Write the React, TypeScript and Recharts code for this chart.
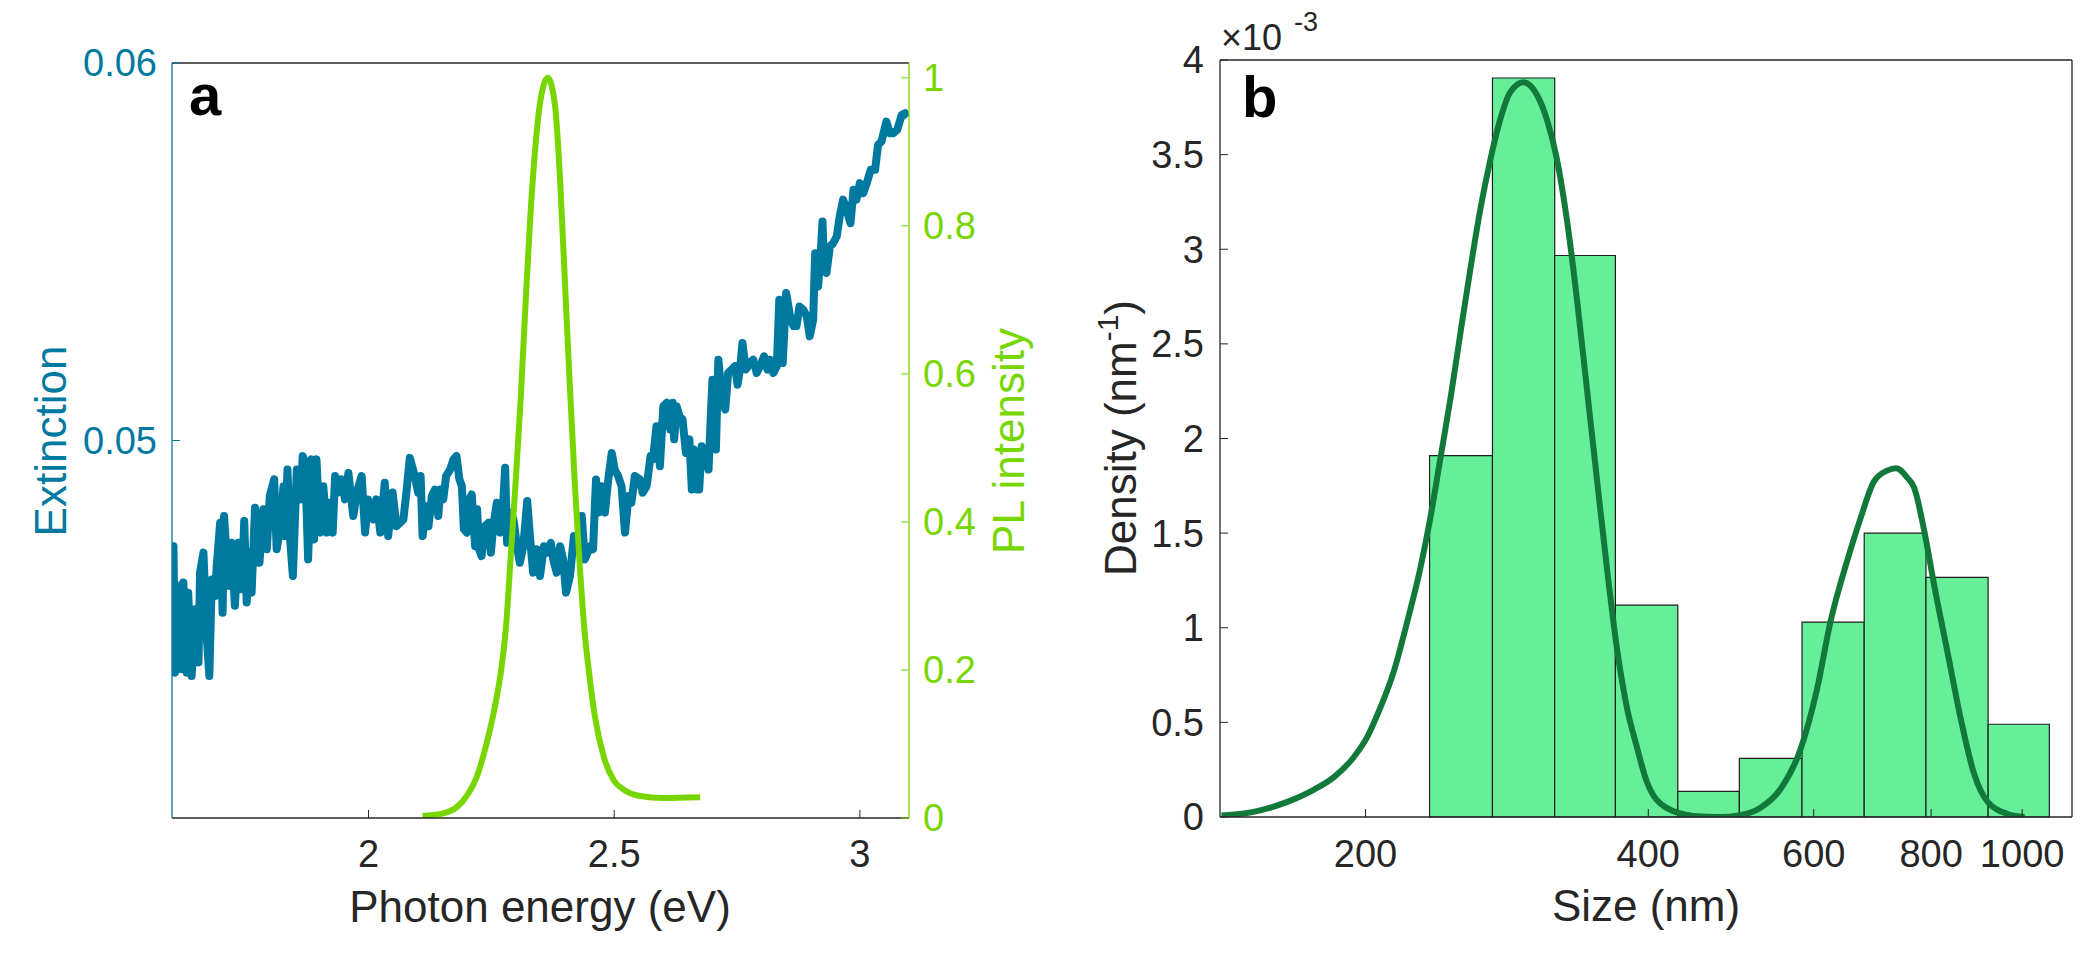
import { Line, LineChart, ReferenceArea, XAxis, YAxis } from "recharts";

const FONT = '"Liberation Sans", Arial, Helvetica, sans-serif';
const INK = "#262626";
const BLUE = "#0079A1";
const LIME = "#78D600";
const HIST_FILL = "#66EE99";
const FIT_GREEN = "#117A3A";

// panel a: extinction spectrum (values in units of 1e-3)
const extEnergy = [
  1.6, 1.603, 1.606, 1.613, 1.62, 1.623, 1.63, 1.633, 1.64, 1.647, 1.654, 1.657, 1.664, 1.671, 1.676,
  1.681, 1.688, 1.691, 1.698, 1.703, 1.706, 1.715, 1.721, 1.728, 1.735, 1.742, 1.747, 1.752, 1.757,
  1.762, 1.769, 1.778, 1.786, 1.793, 1.799, 1.808, 1.813, 1.82, 1.827, 1.83, 1.835, 1.84, 1.846, 1.854,
  1.862, 1.866, 1.871, 1.877, 1.884, 1.889, 1.894, 1.901, 1.908, 1.915, 1.92, 1.927, 1.932, 1.938,
  1.945, 1.952, 1.959, 1.969, 1.976, 1.986, 1.993, 1.999, 2.01, 2.016, 2.024, 2.033, 2.04, 2.049,
  2.057, 2.071, 2.077, 2.084, 2.094, 2.101, 2.106, 2.11, 2.118, 2.122, 2.129, 2.135, 2.142, 2.146,
  2.152, 2.158, 2.166, 2.173, 2.179, 2.185, 2.19, 2.194, 2.2, 2.205, 2.21, 2.217, 2.221, 2.225, 2.23,
  2.237, 2.244, 2.249, 2.254, 2.261, 2.268, 2.273, 2.278, 2.282, 2.288, 2.295, 2.303, 2.308, 2.315,
  2.323, 2.329, 2.335, 2.342, 2.349, 2.357, 2.364, 2.371, 2.376, 2.383, 2.39, 2.396, 2.402, 2.41,
  2.418, 2.427, 2.434, 2.44, 2.451, 2.457, 2.463, 2.468, 2.474, 2.481, 2.488, 2.495, 2.501, 2.508,
  2.515, 2.522, 2.529, 2.535, 2.542, 2.552, 2.558, 2.566, 2.574, 2.579, 2.586, 2.593, 2.6, 2.607,
  2.614, 2.619, 2.622, 2.627, 2.633, 2.639, 2.646, 2.653, 2.658, 2.662, 2.668, 2.673, 2.678, 2.685,
  2.692, 2.696, 2.7, 2.707, 2.712, 2.719, 2.726, 2.732, 2.739, 2.746, 2.751, 2.756, 2.761, 2.768,
  2.776, 2.783, 2.79, 2.797, 2.805, 2.812, 2.817, 2.824, 2.831, 2.836, 2.843, 2.85, 2.858, 2.865,
  2.871, 2.877, 2.885, 2.892, 2.898, 2.905, 2.909, 2.915, 2.92, 2.924, 2.927, 2.932, 2.939, 2.946,
  2.953, 2.959, 2.966, 2.973, 2.981, 2.987, 2.993, 3.0, 3.007, 3.014, 3.022, 3.031, 3.037, 3.044,
  3.054, 3.061, 3.068, 3.076, 3.085, 3.092, 3.098,
];
const extMilli = [
  46.0, 47.2, 43.85, 46.15, 43.94, 46.24, 43.85, 45.97, 43.76, 45.53, 44.12, 46.5, 47.03, 44.74, 43.76,
  46.32, 45.88, 46.68, 47.82, 45.44, 48.0, 46.15, 47.29, 45.62, 47.29, 46.06, 47.87, 45.71, 47.03,
  45.97, 48.22, 46.76, 48.18, 47.12, 48.53, 48.97, 47.12, 47.65, 48.79, 47.47, 49.23, 47.47, 46.41, 49.23,
  48.44, 49.59, 49.41, 46.85, 49.5, 47.38, 49.5, 47.56, 48.79, 47.56, 48.35, 47.56, 49.06, 48.62,
  48.97, 48.44, 49.14, 48.0, 48.62, 49.06, 47.56, 48.44, 47.91, 48.44, 47.56, 48.88, 47.47, 48.62,
  47.73, 47.91, 48.62, 49.54, 49.06, 48.62, 49.06, 47.47, 48.26, 47.73, 48.53, 48.7, 48.0, 48.7,
  48.44, 49.06, 49.23, 49.5, 49.59, 48.97, 48.79, 47.65, 47.56, 48.44, 48.57, 47.2, 48.18, 47.12, 46.94,
  47.73, 47.82, 47.03, 47.73, 48.35, 47.56, 48.09, 49.28, 47.29, 48.09, 47.91, 47.12, 46.76, 47.2,
  48.4, 47.38, 46.5, 47.12, 46.41, 47.2, 47.03, 47.29, 46.85, 46.5, 47.2, 46.85, 45.97, 46.41,
  47.47, 47.2, 48.0, 46.85, 47.2, 47.12, 48.97, 48.09, 48.79, 48.09, 48.97, 49.67, 49.23, 49.06,
  48.79, 47.56, 48.53, 48.35, 49.06, 48.97, 48.62, 48.79, 49.59, 49.5, 50.38, 49.32, 50.91, 51.0,
  50.29, 51.0, 50.03, 50.91, 50.64, 50.56, 49.67, 50.03, 48.7, 49.76, 48.7, 48.7, 49.85, 49.67,
  49.23, 50.47, 51.61, 49.76, 52.14, 51.17, 50.82, 51.79, 51.88, 51.97, 51.48, 51.88, 52.58, 51.88,
  52.05, 52.14, 51.79, 51.97, 52.23, 51.88, 52.14, 51.79, 51.97, 53.73, 52.05, 53.91, 53.29, 53.03,
  53.03, 53.55, 53.46, 53.29, 52.76, 53.2, 54.96, 54.08, 54.92, 55.8, 54.52, 54.44, 55.14, 55.23,
  55.41, 55.94, 56.38, 56.11, 55.76, 56.64, 56.38, 56.82, 56.55, 56.82, 57.17, 57.17, 57.83, 57.92,
  58.45, 58.14, 58.14, 58.23, 58.62, 58.67, 58.58,
];

// panel a: normalised photoluminescence
const plEnergy = [
  2.11, 2.15, 2.18, 2.2, 2.22, 2.24, 2.26, 2.27, 2.28, 2.29, 2.3, 2.31, 2.32, 2.33, 2.34, 2.35, 2.365,
  2.38, 2.39, 2.4, 2.41, 2.42, 2.43, 2.44, 2.45, 2.46, 2.48, 2.5, 2.52, 2.55, 2.6, 2.675,
];
const plValue = [
  0.003, 0.006, 0.015, 0.03, 0.055, 0.1, 0.16, 0.2, 0.26, 0.36, 0.46, 0.57, 0.7, 0.82, 0.91, 0.97, 1.0,
  0.96, 0.86, 0.72, 0.58, 0.45, 0.34, 0.25, 0.19, 0.14, 0.08, 0.05, 0.038, 0.03, 0.027, 0.028,
];

const energyTicks = [2, 2.5, 3];
const extTicks = [0.05, 0.06];
const plTicks = [0, 0.2, 0.4, 0.6, 0.8, 1];

// panel b: size histogram (density in units of 1e-3 nm^-1)
const binEdges = [234, 273, 318, 369, 430, 500, 583, 679, 790, 920, 1069];
const binDensity = [1.91, 3.905, 2.967, 1.12, 0.135, 0.31, 1.03, 1.5, 1.266, 0.49];

// panel b: fitted bimodal curve
const fitSize = [
  140.5, 152, 165.1, 176.3, 185.1, 194.4, 200.8, 207.5, 214.2, 221.4, 228.8, 234.4, 240.3, 246.3,
  252.3, 258.6, 265, 271.6, 278.2, 285.1, 294.6, 304.4, 312, 319.8, 327.6, 335.8, 344.1, 352.6,
  361.4, 370.3, 379.5, 389, 398.1, 418.3, 446.6, 476.9, 500.9, 526.1, 552.6, 580.5, 604.9, 625,
  651.2, 672.9, 695.3, 718, 734.1, 755.6, 767.4, 786.5, 806.1, 832.9, 860.6, 889.3, 919, 965.4, 1006,
];
const fitDensity = [
  0.008, 0.027, 0.08, 0.145, 0.211, 0.317, 0.422, 0.58, 0.764, 1.027, 1.316, 1.579, 1.895, 2.211,
  2.553, 2.895, 3.211, 3.474, 3.685, 3.829, 3.882, 3.816, 3.685, 3.474, 3.158, 2.737, 2.264, 1.79,
  1.316, 0.895, 0.58, 0.369, 0.193, 0.048, 0.006, 0.0, 0.01, 0.048, 0.145, 0.354, 0.676, 1.03,
  1.353, 1.578, 1.772, 1.83, 1.843, 1.79, 1.74, 1.514, 1.224, 0.87, 0.515, 0.225, 0.08, 0.016, 0.0,
];

const sizeTicks = [200, 400, 600, 800, 1000];
const densityTicks = [0, 0.5, 1, 1.5, 2, 2.5, 3, 3.5, 4];

const extRows = extEnergy.map((e, i) => ({ e, v: extMilli[i] / 1000 }));
const plRows = plEnergy.map((e, i) => ({ e, v: plValue[i] }));
const fitRows = fitSize.map((s, i) => ({ s, v: fitDensity[i] }));

const tickFont = { fontSize: 38, fontFamily: FONT };
const axisStroke = { stroke: INK, strokeWidth: 1.3 };

function PanelA() {
  return (
    <LineChart width={1050} height={956} margin={{ top: 62, right: 81, bottom: 78, left: 112 }}>
      <XAxis
        xAxisId="x"
        dataKey="e"
        type="number"
        domain={[1.6, 3.1]}
        ticks={energyTicks}
        interval={0}
        allowDataOverflow
        height={60}
        tickSize={-8}
        tickMargin={30}
        axisLine={axisStroke}
        tickLine={{ stroke: INK }}
        tick={{ ...tickFont, fill: INK }}
      />
      <XAxis
        xAxisId="xt"
        orientation="top"
        dataKey="e"
        type="number"
        domain={[1.6, 3.1]}
        ticks={energyTicks}
        interval={0}
        allowDataOverflow
        height={1}
        tickSize={-8}
        axisLine={axisStroke}
        tickLine={{ stroke: INK }}
        tick={false}
      />
      <YAxis
        yAxisId="ext"
        type="number"
        domain={[0.04, 0.06]}
        ticks={extTicks}
        interval={0}
        allowDataOverflow
        width={60}
        tickSize={-8}
        tickMargin={23}
        tickFormatter={(v) => v.toFixed(2)}
        axisLine={{ stroke: BLUE, strokeWidth: 1.3 }}
        tickLine={{ stroke: BLUE }}
        tick={{ ...tickFont, fill: BLUE }}
      />
      <YAxis
        yAxisId="pl"
        orientation="right"
        type="number"
        domain={[0, 1.02]}
        ticks={plTicks}
        interval={0}
        allowDataOverflow
        width={60}
        tickSize={-8}
        tickMargin={22}
        tickFormatter={(v) => String(v)}
        axisLine={{ stroke: LIME, strokeWidth: 1.3 }}
        tickLine={{ stroke: LIME }}
        tick={{ ...tickFont, fill: LIME }}
      />
      <Line
        data={extRows}
        dataKey="v"
        xAxisId="x"
        yAxisId="ext"
        type="linear"
        stroke={BLUE}
        strokeWidth={8}
        strokeLinejoin="round"
        dot={false}
        isAnimationActive={false}
      />
      <Line
        data={plRows}
        dataKey="v"
        xAxisId="x"
        yAxisId="pl"
        type="monotone"
        stroke={LIME}
        strokeWidth={6}
        dot={false}
        isAnimationActive={false}
      />
    </LineChart>
  );
}

function PanelB() {
  return (
    <LineChart width={1050} height={956} margin={{ top: 59, right: 18, bottom: 79, left: 110 }}>
      <XAxis
        xAxisId="x"
        dataKey="s"
        type="number"
        scale="log"
        domain={[140, 1130]}
        ticks={sizeTicks}
        interval={0}
        allowDataOverflow
        height={60}
        tickSize={-8}
        tickMargin={31}
        axisLine={axisStroke}
        tickLine={{ stroke: INK }}
        tick={{ ...tickFont, fill: INK }}
      />
      <XAxis
        xAxisId="xt"
        orientation="top"
        dataKey="s"
        type="number"
        scale="log"
        domain={[140, 1130]}
        ticks={sizeTicks}
        interval={0}
        allowDataOverflow
        height={1}
        tickSize={-8}
        axisLine={axisStroke}
        tickLine={{ stroke: INK }}
        tick={false}
      />
      <YAxis
        yAxisId="d"
        type="number"
        domain={[0, 4]}
        ticks={densityTicks}
        interval={0}
        allowDataOverflow
        width={60}
        tickSize={-8}
        tickMargin={24}
        tickFormatter={(v) => String(v)}
        axisLine={axisStroke}
        tickLine={{ stroke: INK }}
        tick={{ ...tickFont, fill: INK }}
      />
      <YAxis
        yAxisId="dr"
        orientation="right"
        type="number"
        domain={[0, 4]}
        ticks={densityTicks}
        interval={0}
        allowDataOverflow
        width={10}
        tickSize={-8}
        axisLine={axisStroke}
        tickLine={{ stroke: INK }}
        tick={false}
      />
      {binDensity.map((d, i) => (
        <ReferenceArea
          key={i}
          xAxisId="x"
          yAxisId="d"
          x1={binEdges[i]}
          x2={binEdges[i + 1]}
          y1={0}
          y2={d}
          fill={HIST_FILL}
          fillOpacity={1}
          stroke="#1e1e1e"
          strokeWidth={1.2}
        />
      ))}
      <Line
        data={fitRows}
        dataKey="v"
        xAxisId="x"
        yAxisId="d"
        type="monotone"
        stroke={FIT_GREEN}
        strokeWidth={6}
        dot={false}
        isAnimationActive={false}
      />
    </LineChart>
  );
}

export default function App() {
  return (
    <div style={{ position: "absolute", left: 0, top: 0, width: 2100, height: 956, background: "#fff", fontFamily: FONT }}>
      <div style={{ position: "absolute", left: 0, top: 0 }}>
        <PanelA />
      </div>
      <div style={{ position: "absolute", left: 1050, top: 0 }}>
        <PanelB />
      </div>
      <svg
        width={2100}
        height={956}
        style={{ position: "absolute", left: 0, top: 0, pointerEvents: "none" }}
        fontFamily={FONT}
      >
        <text x={189} y={115} fontSize={58} fontWeight="bold" fill="#000">a</text>
        <text x={1242} y={117} fontSize={58} fontWeight="bold" fill="#000">b</text>
        <text x={1221} y={50} fontSize={36} fill={INK}>×10</text>
        <text x={1294} y={31} fontSize={27} fill={INK}>-3</text>
        <text x={540} y={922} fontSize={44} fill={INK} textAnchor="middle">Photon energy (eV)</text>
        <text x={1646} y={921} fontSize={44} fill={INK} textAnchor="middle">Size (nm)</text>
        <text x={66} y={441} fontSize={44} fill={BLUE} textAnchor="middle" transform="rotate(-90 66 441)">
          Extinction
        </text>
        <text x={1024} y={441} fontSize={44} fill={LIME} textAnchor="middle" transform="rotate(-90 1024 441)">
          PL intensity
        </text>
        <text x={1136} y={438} fontSize={44} fill={INK} textAnchor="middle" transform="rotate(-90 1136 438)">
          Density (nm
          <tspan fontSize={30} dy={-18}>-1</tspan>
          <tspan dy={18}>)</tspan>
        </text>
      </svg>
    </div>
  );
}
